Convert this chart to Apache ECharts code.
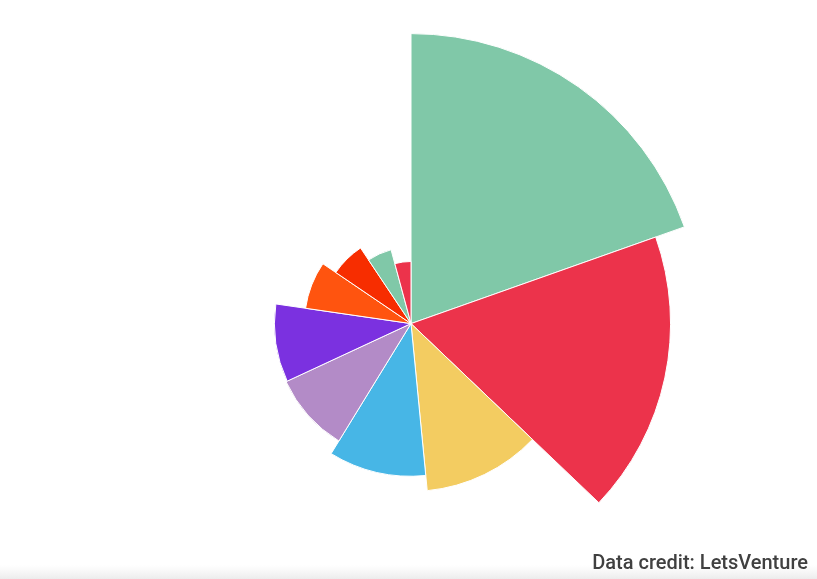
<!DOCTYPE html>
<html>
<head>
<meta charset="utf-8">
<script src="https://cdn.jsdelivr.net/npm/echarts@6/dist/echarts.min.js"></script>
<style>
html,body{margin:0;padding:0;background:#fff;}
#chart{width:817px;height:579px;}
</style>
</head>
<body>
<div id="chart"></div>
<script>
const categories = ['Sector 1','Sector 2','Sector 3','Sector 4','Sector 5','Sector 6','Sector 7','Sector 8','Sector 9','Sector 10'];
const values = [70.5, 63.1, 40.8, 37.1, 33.5, 33.2, 25.9, 22.1, 18.6, 15.1];
const colors = ['#80C8A8','#EC334B','#F3CC61','#47B6E6','#B38BC7','#7B31E0','#FF540F','#F72D00','#80C8A8','#EC334B'];
const credit = 'Data credit: LetsVenture';

const chart = echarts.init(document.getElementById('chart'), null, {renderer:'canvas'});
chart.setOption({
  animation: false,
  backgroundColor: '#ffffff',
  series: [{
    type: 'pie',
    roseType: 'radius',
    center: [411, 323.6],
    radius: [0, 290],
    startAngle: 90,
    clockwise: true,
    minAngle: 0,
    label: {show: false},
    labelLine: {show: false},
    itemStyle: {borderColor: '#ffffff', borderWidth: 1},
    emphasis: {disabled: true},
    data: categories.map((c, i) => ({name: c, value: values[i], itemStyle: {color: colors[i]}}))
  }],
  graphic: [{
    type: 'rect',
    left: 0,
    bottom: 0,
    shape: {width: 817, height: 14},
    style: {
      fill: new echarts.graphic.LinearGradient(0, 0, 0, 1, [
        {offset: 0, color: 'rgba(240,240,240,0)'},
        {offset: 1, color: 'rgba(236,236,236,1)'}
      ])
    },
    silent: true
  }, {
    type: 'text',
    right: 9,
    bottom: 5,
    style: {
      text: credit,
      font: '500 20px Roboto, "Noto Sans", sans-serif',
      fill: '#404040'
    }
  }]
});
</script>
</body>
</html>
